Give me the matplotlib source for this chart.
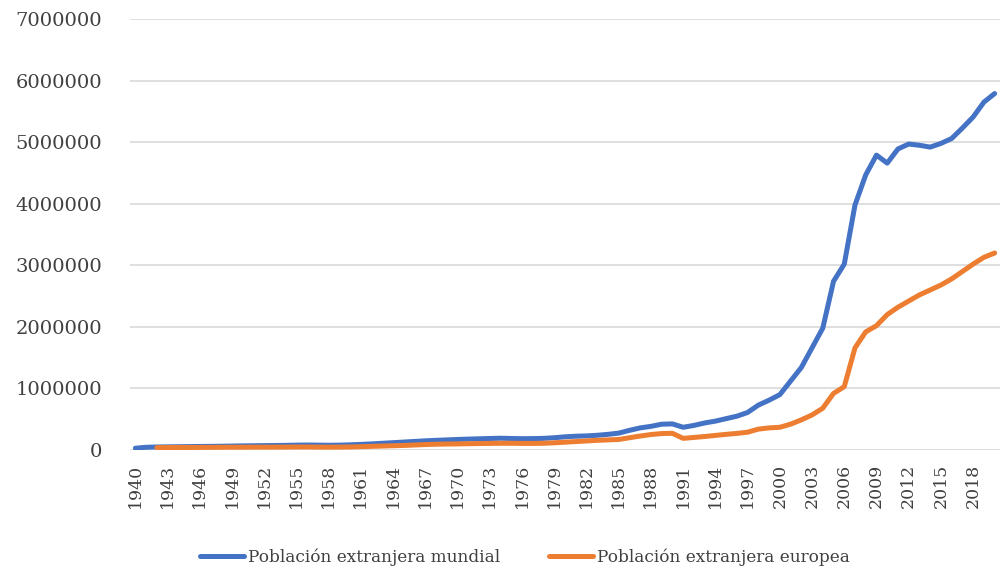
import numpy as np
import matplotlib.pyplot as plt

# años 1940-2020
years = np.arange(1940, 2021)

mundial = [30000, 45000, 50000, 52000, 54000, 56000, 58000, 60000, 62000, 65000,
           68000, 70000, 72000, 74000, 76000, 80000, 82000, 80000, 78000, 80000,
           85000, 92000, 100000, 110000, 120000, 130000, 140000, 150000, 158000, 165000,
           172000, 178000, 183000, 188000, 192000, 188000, 185000, 186000, 190000, 200000,
           215000, 225000, 230000, 240000, 255000, 275000, 320000, 360000, 385000, 420000,
           425000, 370000, 400000, 440000, 470000, 510000, 550000, 610000, 730000, 810000,
           900000, 1120000, 1340000, 1660000, 1980000, 2740000, 3020000, 3980000, 4470000, 4790000,
           4660000, 4890000, 4970000, 4950000, 4920000, 4980000, 5060000, 5230000, 5410000, 5650000,
           5790000]

europea = [np.nan, np.nan, 40000, 41000, 42000, 42000, 43000, 44000, 45000, 46000,
           46000, 47000, 47000, 48000, 48000, 50000, 50000, 48000, 47000, 48000,
           50000, 55000, 60000, 65000, 70000, 75000, 82000, 90000, 95000, 98000,
           100000, 103000, 106000, 108000, 110000, 110000, 108000, 108000, 110000, 118000,
           128000, 138000, 148000, 158000, 165000, 172000, 200000, 228000, 252000, 268000,
           272000, 190000, 205000, 220000, 238000, 255000, 270000, 290000, 340000, 360000,
           370000, 420000, 490000, 570000, 680000, 920000, 1030000, 1660000, 1920000, 2020000,
           2200000, 2320000, 2420000, 2520000, 2600000, 2680000, 2780000, 2900000, 3020000, 3130000,
           3200000]

plt.rcParams['font.family'] = ['DejaVu Serif']

fig = plt.figure(figsize=(10, 5.77), dpi=100)
ax = fig.add_axes([0.13, 0.22, 0.87, 0.747])

ax.plot(years, mundial, color='#4472C4', lw=3.6, solid_capstyle='round',
        label='Población extranjera mundial')
ax.plot(years, europea, color='#ED7D31', lw=3.6, solid_capstyle='round',
        label='Población extranjera europea')

ax.set_xlim(1939.5, 2020.5)
ax.set_ylim(0, 7000000)
ax.set_yticks(np.arange(0, 7000001, 1000000))
ax.set_yticklabels([str(v) for v in range(0, 7000001, 1000000)], fontsize=14, color='#404040')
ax.set_xticks(np.arange(1940, 2020, 3))
ax.set_xticklabels([str(y) for y in range(1940, 2020, 3)], rotation=90, fontsize=12.5, color='#404040')
ax.tick_params(length=0)
ax.tick_params(axis='y', pad=20)
ax.tick_params(axis='x', pad=10)
ax.grid(axis='y', color='#d9d9d9', lw=1.2)
ax.set_axisbelow(True)
for s in ax.spines.values():
    s.set_visible(False)

fig.legend(loc='lower center', bbox_to_anchor=(0.525, -0.008), ncol=2, frameon=False,
           fontsize=12.2, handlelength=2.6, handletextpad=0.25, columnspacing=2.9,
           labelcolor='#404040')

plt.savefig('out.png', dpi=100)
